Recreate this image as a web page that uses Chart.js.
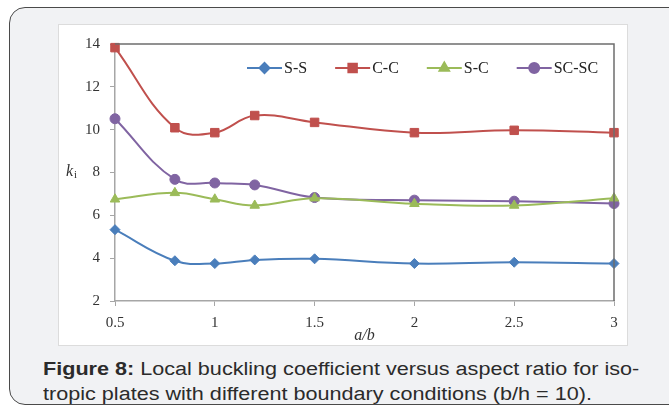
<!DOCTYPE html>
<html>
<head>
<meta charset="utf-8">
<script src="https://cdn.jsdelivr.net/npm/chart.js@4.4.0/dist/chart.umd.min.js"></script>
<style>
  html, body { margin:0; padding:0; background:#fff; width:669px; height:407px; overflow:hidden; }
  .card {
    position:absolute; left:9px; top:7px; width:720px; height:396px;
    border:1.5px solid #4a4a4a; border-radius:16px; background:#f1f2f4;
  }
  .plot {
    position:absolute; left:59px; top:25px; width:568px; height:320px;
    background:#fff; box-shadow:0 0 0 1px #dcdcdc;
  }
  .caption {
    position:absolute; left:43px; top:357px; width:520px; white-space:nowrap;
    font-family:"Liberation Sans", Arial, sans-serif; font-size:18px; line-height:24.5px; color:#2b2b2b;
    transform:scaleX(1.2); transform-origin:left top;
  }
  .caption b { font-weight:bold; }
</style>
</head>
<body>
<div class="card"></div>
<div class="plot"><canvas id="chart" width="568" height="320"></canvas></div>
<div class="caption"><b>Figure 8:</b> Local buckling coefficient versus aspect ratio for iso-<br>tropic plates with different boundary conditions (b/h = 10).</div>

<script>
// ---------- Data ----------
const aspectRatio = [0.5, 0.8, 1, 1.2, 1.5, 2, 2.5, 3];
const seriesNames = ['S-S', 'C-C', 'S-C', 'SC-SC'];
const ssValues   = [5.33, 3.88, 3.75, 3.92, 3.97, 3.75, 3.81, 3.75];
const ccValues   = [13.83, 10.09, 9.86, 10.66, 10.34, 9.86, 9.97, 9.86];
const scValues   = [6.75, 7.05, 6.75, 6.46, 6.80, 6.54, 6.46, 6.80];
const scscValues = [10.51, 7.68, 7.51, 7.42, 6.83, 6.71, 6.66, 6.55];
const yTicks = [2, 4, 6, 8, 10, 12, 14];

const serif = "'Liberation Serif', 'Times New Roman', serif";

function pts(vals){ return vals.map((v,i) => ({x: aspectRatio[i], y: v})); }

function series(label, vals, color, style, radius){
  return {
    label, data: pts(vals),
    borderColor: color, backgroundColor: color, borderWidth: 2,
    pointStyle: style, pointRadius: radius, pointHoverRadius: radius,
    pointBorderColor: color, pointBackgroundColor: color, pointBorderWidth: 1,
    tension: 0.4, fill: false, clip: false
  };
}

// ---------- Plot border + legend + y title ----------
const decor = {
  id: 'decor',
  afterDraw(chart){
    const {ctx, chartArea:{left, right, top, bottom}} = chart;
    ctx.save();
    // top & right border of plot area
    ctx.strokeStyle = '#6e6e6e';
    ctx.lineWidth = 1.5;
    ctx.beginPath();
    ctx.moveTo(left, top); ctx.lineTo(right, top); ctx.lineTo(right, bottom);
    ctx.stroke();

    // y title k_i
    const yT = chart.scales.y.getPixelForValue(8);
    ctx.fillStyle = '#333';
    ctx.textBaseline = 'middle';
    ctx.textAlign = 'left';
    ctx.font = 'italic 16px ' + serif;
    ctx.fillText('k', 7, yT - 1);
    ctx.font = '11px ' + serif;
    ctx.fillText('i', 15, yT + 3);

    // legend (line + marker + text)
    let x = left + 132;
    const y = top + 24;
    chart.data.datasets.forEach(ds => {
      ctx.strokeStyle = ds.borderColor;
      ctx.lineWidth = 2;
      ctx.beginPath(); ctx.moveTo(x, y); ctx.lineTo(x + 35, y); ctx.stroke();
      ctx.fillStyle = ds.borderColor;
      Chart.helpers.drawPoint(ctx, {pointStyle: ds.pointStyle, radius: ds.pointRadius, rotation: 0, borderWidth: 1}, x + 17.5, y);
      ctx.fill();
      ctx.fillStyle = '#222';
      ctx.font = '16px ' + serif;
      ctx.fillText(ds.label, x + 37, y + 1);
      x += 37 + ctx.measureText(ds.label).width + 28;
    });
    ctx.restore();
  }
};

new Chart(document.getElementById('chart'), {
  type: 'line',
  data: {
    datasets: [
      series(seriesNames[0], ssValues,   '#4a7ebb', 'rectRot', 5),
      series(seriesNames[1], ccValues,   '#c0504d', 'rect', 6),
      series(seriesNames[2], scValues,   '#9bbb59', 'triangle', 5.5),
      series(seriesNames[3], scscValues, '#8064a2', 'circle', 5)
    ]
  },
  options: {
    responsive: false,
    animation: false,
    layout: { padding: { left: 0, right: 13, top: 16, bottom: 0 } },
    plugins: { legend: { display: false }, tooltip: { enabled: false } },
    scales: {
      x: {
        type: 'linear', min: 0.5, max: 3,
        afterFit: s => { s.height = 44; },
        ticks: { stepSize: 0.5, color: '#333', padding: 8, font: { family: serif, size: 15 },
                 callback: v => String(v) },
        grid: { display: true, drawOnChartArea: false, color: '#a6a6a6', tickLength: 5 },
        border: { color: '#a6a6a6', width: 1.5 },
        title: { display: true, text: 'a/b', color: '#333', padding: { top: 0, bottom: 0 },
                 font: { family: serif, size: 16, style: 'italic' } }
      },
      y: {
        min: 2, max: 14,
        afterFit: s => { s.width = 56; },
        afterBuildTicks: s => { s.ticks = yTicks.map(v => ({value: v})); },
        ticks: { color: '#333', padding: 10, font: { family: serif, size: 15 } },
        grid: { display: true, drawOnChartArea: false, color: '#a6a6a6', tickLength: 5 },
        border: { color: '#a6a6a6', width: 1.5 }
      }
    }
  },
  plugins: [decor]
});
</script>
</body>
</html>
